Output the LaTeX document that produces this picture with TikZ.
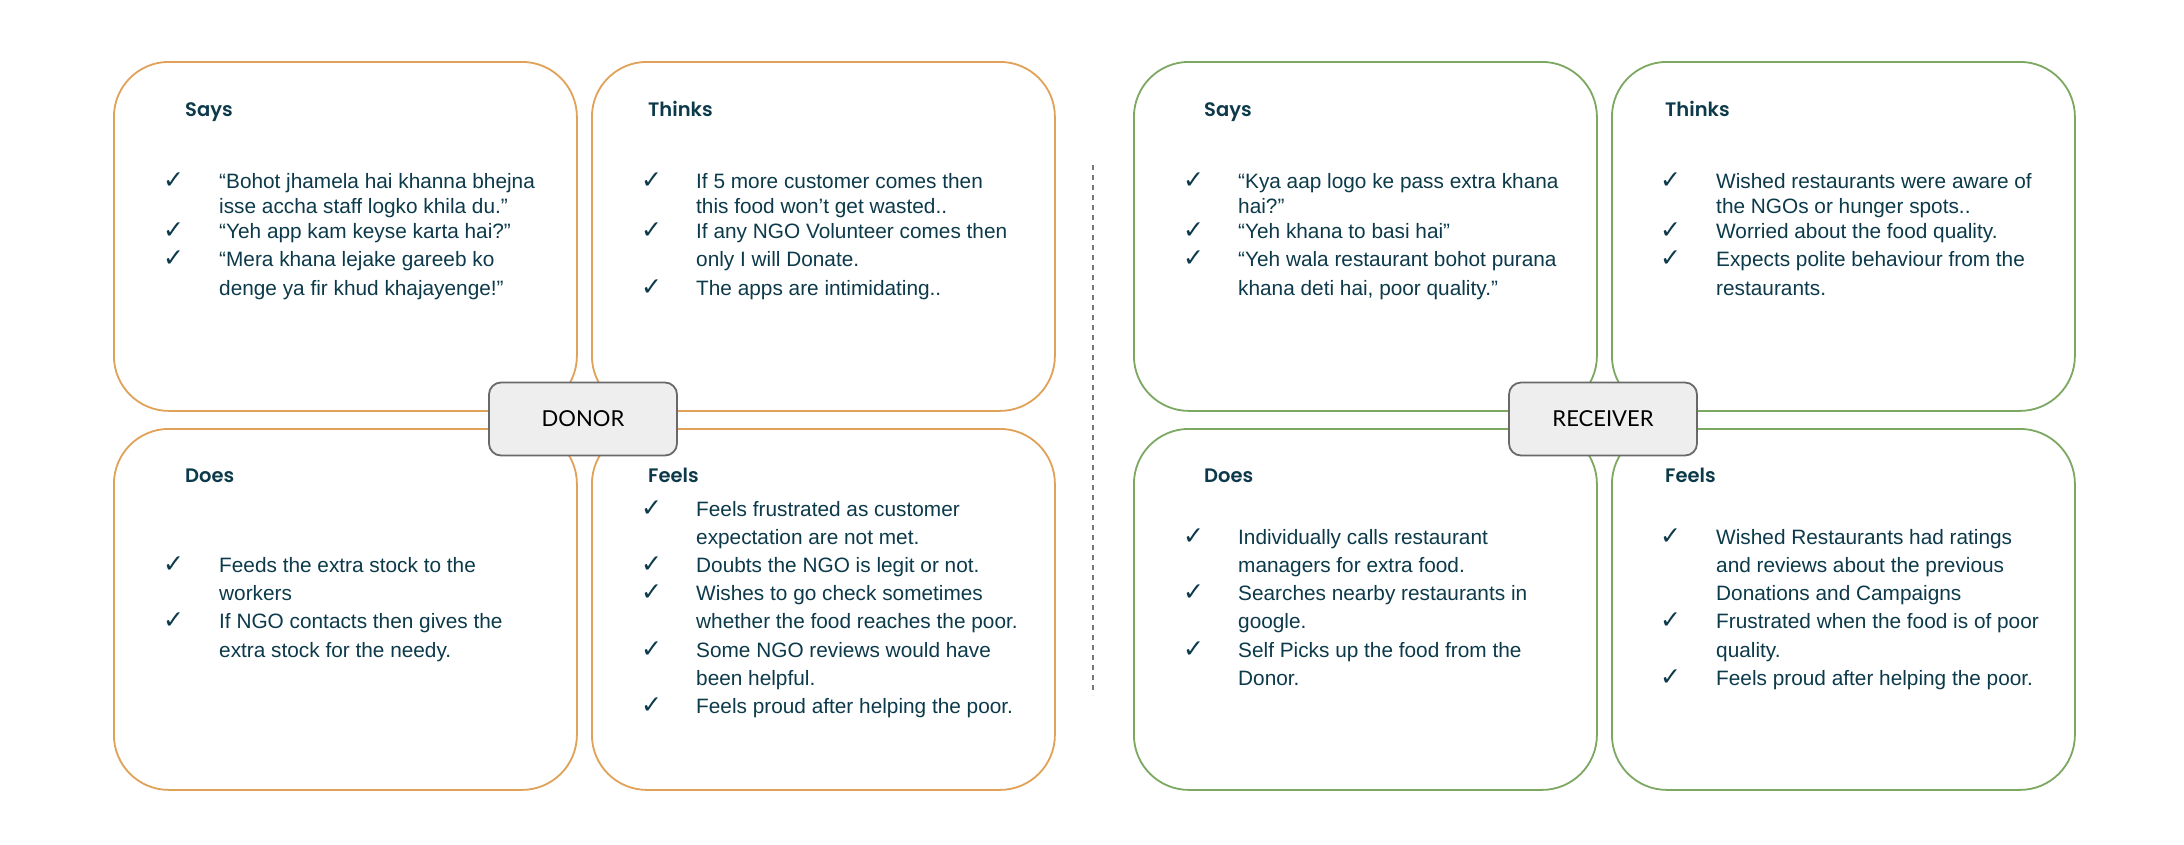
\documentclass[tikz,border=0pt]{standalone}
\usepackage{fontspec}
\setmainfont{Liberation Sans}
\newfontfamily\headfont{Poppins SemiBold}
\newfontfamily\labfont{Lato}
\newfontfamily\symfont{DejaVu Sans}
\definecolor{ink}{RGB}{12,58,74}
\definecolor{donorc}{RGB}{224,161,88}
\definecolor{recvc}{RGB}{124,168,98}
\definecolor{labfill}{RGB}{238,238,238}
\definecolor{labdraw}{RGB}{105,105,105}
\definecolor{dashc}{RGB}{120,120,120}
\newcommand\tline[4]{\node[txt] (#1) at (#2,#3) {#4};}
\newcommand\tchk[3]{\node[chk] (#1) at (#2,#3) {✓};}
\newcommand\ttitle[4]{\node[ttl] (#1) at (#2,#3) {#4};}
\tikzset{
  quad/.style={draw=#1, line width=1.8pt, rounded corners=55pt, inner sep=0pt, anchor=north west},
  toprow/.style={minimum width=463pt, minimum height=349pt},
  botrow/.style={minimum width=463pt, minimum height=361pt},
  txt/.style={anchor=base west, inner sep=0pt, text=ink, font=\fontsize{20.8}{24}\selectfont},
  ttl/.style={anchor=base west, inner sep=0pt, text=ink, font=\headfont\fontsize{19.5}{24}\selectfont},
  chk/.style={anchor=base west, inner sep=0pt, text=ink, font=\symfont\fontsize{25}{28}\selectfont},
  lab/.style={draw=labdraw, fill=labfill, line width=1.8pt, rounded corners=12pt, minimum width=188pt, minimum height=73pt, inner sep=0pt, font=\labfont\fontsize{22}{26}\selectfont, text=black},
  sep/.style={draw=dashc, line width=1.5pt, dash pattern=on 5pt off 5pt}
}
\begin{document}
\begin{tikzpicture}[x=1pt,y=-1pt]
\useasboundingbox (0,0) rectangle (2184,844);
\fill[white] (0,0) rectangle (2184,844);

% ---------- DONOR quadrants ----------
\node[quad=donorc, toprow] (dsays) at (113,61) {};
\node[quad=donorc, toprow] (dthinks) at (591,61) {};
\node[quad=donorc, botrow] (ddoes) at (113,428) {};
\node[quad=donorc, botrow] (dfeels) at (591,428) {};
\node[lab] (donor) at (583,419) {DONOR};

% ---------- RECEIVER quadrants ----------
\node[quad=recvc, toprow] (rsays) at (1133,61) {};
\node[quad=recvc, toprow] (rthinks) at (1611,61) {};
\node[quad=recvc, botrow] (rdoes) at (1133,428) {};
\node[quad=recvc, botrow] (rfeels) at (1611,428) {};
\node[lab] (receiver) at (1603,419) {RECEIVER};

% ---------- separator ----------
\coordinate (septop) at (1093,165);
\coordinate (sepbot) at (1093,695);
\draw[sep] (septop) -- (sepbot);

% ---------- Donor Says ----------
\ttitle{dsaysT}{185}{116}{Says}
\tchk{dsc1}{163}{188}
\tline{dsl1}{219}{188}{“Bohot jhamela hai khanna bhejna}
\tline{dsl2}{219}{213}{isse accha staff logko khila du.”}
\tchk{dsc2}{163}{238}
\tline{dsl3}{219}{238}{“Yeh app kam keyse karta hai?”}
\tchk{dsc3}{163}{266}
\tline{dsl4}{219}{266}{“Mera khana lejake gareeb ko}
\tline{dsl5}{219}{295}{denge ya fir khud khajayenge!”}

% ---------- Donor Thinks ----------
\ttitle{dthT}{648}{116}{Thinks}
\tchk{dtc1}{641}{188}
\tline{dtl1}{696}{188}{If 5 more customer comes then}
\tline{dtl2}{696}{213}{this food won’t get wasted..}
\tchk{dtc2}{641}{238}
\tline{dtl3}{696}{238}{If any NGO Volunteer comes then}
\tline{dtl4}{696}{266}{only I will Donate.}
\tchk{dtc3}{641}{295}
\tline{dtl5}{696}{295}{The apps are intimidating..}

% ---------- Donor Does ----------
\ttitle{ddT}{185}{482}{Does}
\tchk{ddc1}{163}{572}
\tline{ddl1}{219}{572}{Feeds the extra stock to the}
\tline{ddl2}{219}{600}{workers}
\tchk{ddc2}{163}{628}
\tline{ddl3}{219}{628}{If NGO contacts then gives the}
\tline{ddl4}{219}{657}{extra stock for the needy.}

% ---------- Donor Feels ----------
\ttitle{dfT}{648}{482}{Feels}
\tchk{dfc1}{641}{516}
\tline{dfl1}{696}{516}{Feels frustrated as customer}
\tline{dfl2}{696}{544}{expectation are not met.}
\tchk{dfc2}{641}{572}
\tline{dfl3}{696}{572}{Doubts the NGO is legit or not.}
\tchk{dfc3}{641}{600}
\tline{dfl4}{696}{600}{Wishes to go check sometimes}
\tline{dfl5}{696}{628}{whether the food reaches the poor.}
\tchk{dfc4}{641}{657}
\tline{dfl6}{696}{657}{Some NGO reviews would have}
\tline{dfl7}{696}{685}{been helpful.}
\tchk{dfc5}{641}{713}
\tline{dfl8}{696}{713}{Feels proud after helping the poor.}

% ---------- Receiver Says ----------
\ttitle{rsT}{1204}{116}{Says}
\tchk{rsc1}{1183}{188}
\tline{rsl1}{1238}{188}{“Kya aap logo ke pass extra khana}
\tline{rsl2}{1238}{213}{hai?”}
\tchk{rsc2}{1183}{238}
\tline{rsl3}{1238}{238}{“Yeh khana to basi hai”}
\tchk{rsc3}{1183}{266}
\tline{rsl4}{1238}{266}{“Yeh wala restaurant bohot purana}
\tline{rsl5}{1238}{295}{khana deti hai, poor quality.”}

% ---------- Receiver Thinks ----------
\ttitle{rtT}{1665}{116}{Thinks}
\tchk{rtc1}{1660}{188}
\tline{rtl1}{1716}{188}{Wished restaurants were aware of}
\tline{rtl2}{1716}{213}{the NGOs or hunger spots..}
\tchk{rtc2}{1660}{238}
\tline{rtl3}{1716}{238}{Worried about the food quality.}
\tchk{rtc3}{1660}{266}
\tline{rtl4}{1716}{266}{Expects polite behaviour from the}
\tline{rtl5}{1716}{295}{restaurants.}

% ---------- Receiver Does ----------
\ttitle{rdT}{1204}{482}{Does}
\tchk{rdc1}{1183}{544}
\tline{rdl1}{1238}{544}{Individually calls restaurant}
\tline{rdl2}{1238}{572}{managers for extra food.}
\tchk{rdc2}{1183}{600}
\tline{rdl3}{1238}{600}{Searches nearby restaurants in}
\tline{rdl4}{1238}{628}{google.}
\tchk{rdc3}{1183}{657}
\tline{rdl5}{1238}{657}{Self Picks up the food from the}
\tline{rdl6}{1238}{685}{Donor.}

% ---------- Receiver Feels ----------
\ttitle{rfT}{1665}{482}{Feels}
\tchk{rfc1}{1660}{544}
\tline{rfl1}{1716}{544}{Wished Restaurants had ratings}
\tline{rfl2}{1716}{572}{and reviews about the previous}
\tline{rfl3}{1716}{600}{Donations and Campaigns}
\tchk{rfc2}{1660}{628}
\tline{rfl4}{1716}{628}{Frustrated when the food is of poor}
\tline{rfl5}{1716}{657}{quality.}
\tchk{rfc3}{1660}{685}
\tline{rfl6}{1716}{685}{Feels proud after helping the poor.}
\end{tikzpicture}
\end{document}
